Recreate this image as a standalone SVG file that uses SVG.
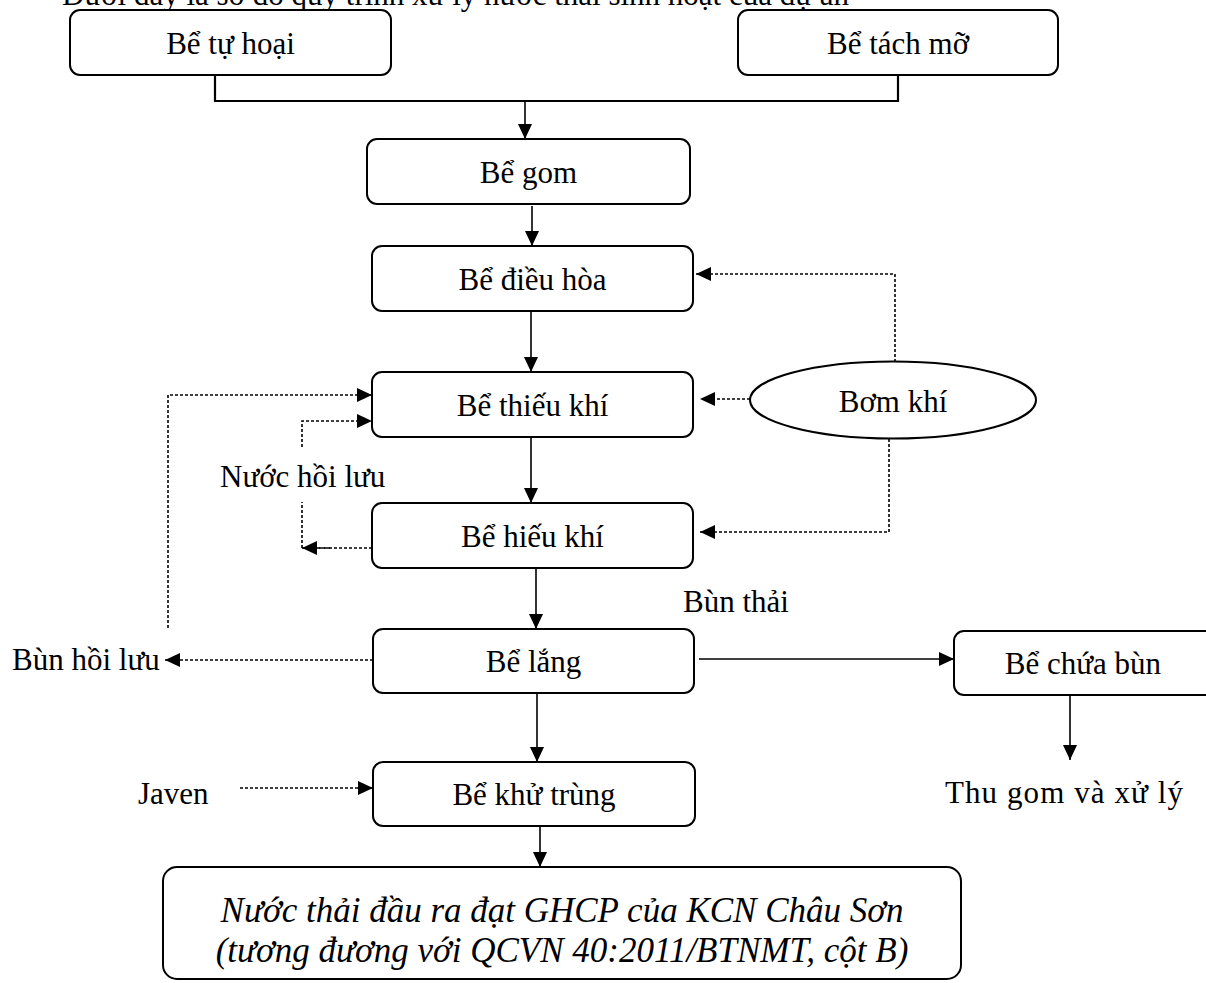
<svg xmlns="http://www.w3.org/2000/svg" width="1206" height="983" viewBox="0 0 1206 983">
  <style>
    .bg { fill: #ffffff; }
    .box { fill: #ffffff; stroke: #000000; stroke-width: 2; }
    .lbl { font-family: "Liberation Serif", "Times New Roman", serif; font-size: 31px; fill: #000000; }
    .mid { text-anchor: middle; }
    .it { font-style: italic; font-size: 35px; }
    .flow { fill: none; stroke: #000000; stroke-width: 1.6; }
    .join { fill: none; stroke: #000000; stroke-width: 2.2; }
    .dot { fill: none; stroke: #000000; stroke-width: 1.6; stroke-dasharray: 3 2; }
  </style>
  <defs>
    <marker id="arrow" markerUnits="userSpaceOnUse" markerWidth="16" markerHeight="14" refX="15" refY="7" orient="auto">
      <path d="M0,0 L15,7 L0,14 z" fill="#000000"/>
    </marker>
  </defs>

  <rect class="bg" x="0" y="0" width="1206" height="983"/>

  <!-- heading line, clipped by the top edge -->
  <text class="lbl" x="62" y="5">Dưới đây là sơ đồ quy trình xử lý nước thải sinh hoạt của dự án</text>

  <!-- connectors -->
  <g id="connectors">
    <!-- collection of the two pre-treatment tanks -->
    <polyline class="join" points="215,75 215,101 898,101 898,75"/>
    <line class="flow" x1="525" y1="101" x2="525" y2="139" marker-end="url(#arrow)"/>
    <line class="flow" x1="532" y1="206" x2="532" y2="246" marker-end="url(#arrow)"/>
    <line class="flow" x1="531" y1="311" x2="531" y2="372" marker-end="url(#arrow)"/>
    <line class="flow" x1="531" y1="437" x2="531" y2="503" marker-end="url(#arrow)"/>
    <line class="flow" x1="536" y1="568" x2="536" y2="629" marker-end="url(#arrow)"/>
    <line class="flow" x1="537" y1="693" x2="537" y2="762" marker-end="url(#arrow)"/>
    <line class="flow" x1="540" y1="826" x2="540" y2="867" marker-end="url(#arrow)"/>
    <!-- sludge line -->
    <line class="flow" x1="699" y1="659" x2="954" y2="659" marker-end="url(#arrow)"/>
    <line class="flow" x1="1070" y1="695" x2="1070" y2="760" marker-end="url(#arrow)"/>

    <!-- air supply -->
    <polyline class="dot" points="895,362 895,274 696,274" marker-end="url(#arrow)"/>
    <line class="dot" x1="750" y1="399" x2="700" y2="399" marker-end="url(#arrow)"/>
    <polyline class="dot" points="889,439 889,532 700,532" marker-end="url(#arrow)"/>

    <!-- internal recirculation -->
    <polyline class="dot" points="302,447 302,421 372,421" marker-end="url(#arrow)"/>
    <polyline class="dot" points="372,548 302,548 302,502"/>
    <line class="dot" x1="330" y1="548" x2="302" y2="548" marker-end="url(#arrow)"/>

    <!-- sludge return -->
    <line class="dot" x1="373" y1="660" x2="165" y2="660" marker-end="url(#arrow)"/>
    <polyline class="dot" points="168,628 168,395 372,395" marker-end="url(#arrow)"/>

    <!-- disinfectant dosing -->
    <line class="dot" x1="240" y1="788" x2="373" y2="788" marker-end="url(#arrow)"/>
  </g>

  <!-- nodes -->
  <g id="be-tu-hoai">
    <rect class="box" x="70" y="10" width="321" height="65" rx="10"/>
    <text class="lbl mid" x="230.5" y="54">Bể tự hoại</text>
  </g>
  <g id="be-tach-mo">
    <rect class="box" x="738" y="10" width="320" height="65" rx="10"/>
    <text class="lbl mid" x="898" y="54">Bể tách mỡ</text>
  </g>
  <g id="be-gom">
    <rect class="box" x="367" y="139" width="323" height="65" rx="10"/>
    <text class="lbl mid" x="528.5" y="183">Bể gom</text>
  </g>
  <g id="be-dieu-hoa">
    <rect class="box" x="372" y="246" width="321" height="65" rx="10"/>
    <text class="lbl mid" x="532.5" y="290">Bể điều hòa</text>
  </g>
  <g id="be-thieu-khi">
    <rect class="box" x="372" y="372" width="321" height="65" rx="10"/>
    <text class="lbl mid" x="532.5" y="416">Bể thiếu khí</text>
  </g>
  <g id="be-hieu-khi">
    <rect class="box" x="372" y="503" width="321" height="65" rx="10"/>
    <text class="lbl mid" x="532.5" y="547">Bể hiếu khí</text>
  </g>
  <g id="be-lang">
    <rect class="box" x="373" y="629" width="321" height="64" rx="10"/>
    <text class="lbl mid" x="533.5" y="672">Bể lắng</text>
  </g>
  <g id="be-khu-trung">
    <rect class="box" x="373" y="762" width="322" height="64" rx="10"/>
    <text class="lbl mid" x="534" y="805">Bể khử trùng</text>
  </g>
  <g id="be-chua-bun">
    <rect class="box" x="954" y="631" width="270" height="64" rx="10"/>
    <text class="lbl mid" x="1083" y="674">Bể chứa bùn</text>
  </g>
  <g id="bom-khi">
    <ellipse class="box" cx="893" cy="400" rx="143" ry="38.5"/>
    <text class="lbl mid" x="893" y="412">Bơm khí</text>
  </g>
  <g id="nuoc-thai-dau-ra">
    <rect class="box" x="163" y="867" width="798" height="112" rx="14"/>
    <text class="lbl mid it" x="562" y="922">Nước thải đầu ra đạt GHCP của KCN Châu Sơn</text>
    <text class="lbl mid it" x="562" y="962">(tương đương với QCVN 40:2011/BTNMT, cột B)</text>
  </g>

  <!-- free labels -->
  <g id="labels">
    <text class="lbl" x="220" y="487">Nước hồi lưu</text>
    <text class="lbl" x="12" y="670">Bùn hồi lưu</text>
    <text class="lbl" x="683" y="612">Bùn thải</text>
    <text class="lbl" x="138" y="804">Javen</text>
    <text class="lbl" x="945" y="803" textLength="238" lengthAdjust="spacing">Thu gom và xử lý</text>
  </g>
</svg>
